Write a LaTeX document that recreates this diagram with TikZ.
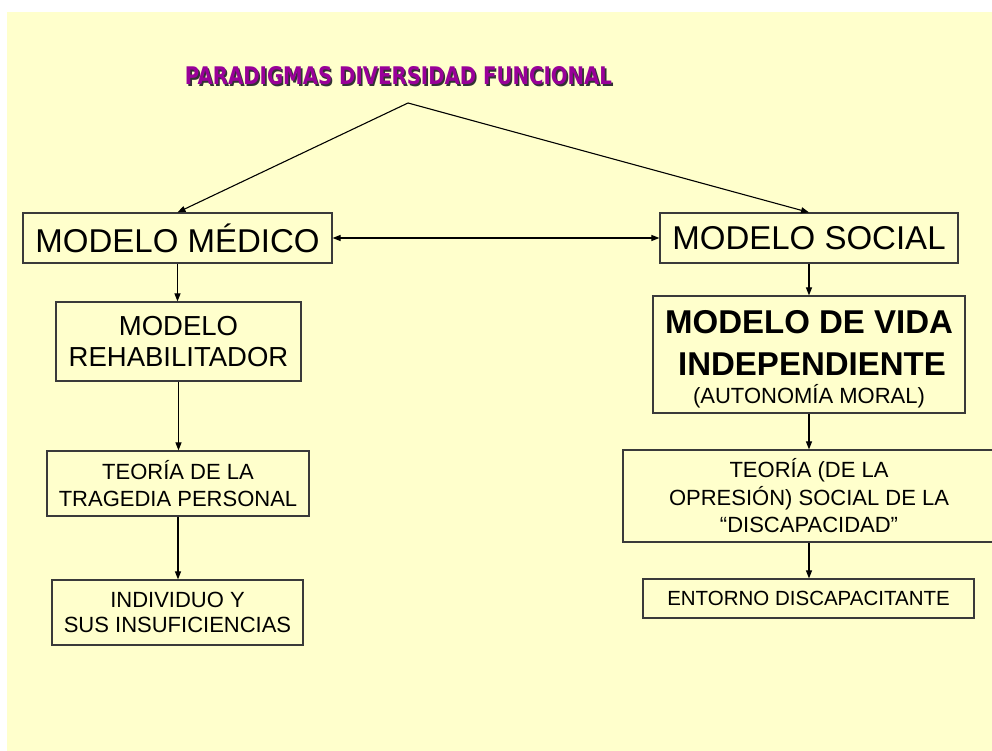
\documentclass[tikz,border=0pt]{standalone}
\usepackage{fontspec}
\setmainfont{Liberation Sans}
\newfontfamily\titlefont{DejaVu Sans}
\usetikzlibrary{arrows.meta}
\definecolor{bgyellow}{HTML}{FFFFCC}
\definecolor{titlepurple}{HTML}{990099}
\definecolor{boxline}{HTML}{3A3A3A}
\newcommand{\titletext}{\titlefont\bfseries PARADIGMAS DIVERSIDAD FUNCIONAL}
\begin{document}
\begin{tikzpicture}[x=1pt,y=-1pt,
  box/.style={draw=boxline, line width=1.2pt, inner sep=0pt, align=center},
  arr/.style={-{Triangle[length=8pt,width=6pt]}, line width=1.1pt, black},
  dblarr/.style={{Triangle[length=8pt,width=6pt]}-{Triangle[length=8pt,width=6pt]}, line width=1.1pt, black},
  bigtxt/.style={font=\fontsize{33}{38}\selectfont},
  midtxt/.style={font=\fontsize{27.5}{31}\selectfont},
  smalltxt/.style={font=\fontsize{22}{27.3}\selectfont},
  titletxt/.style={anchor=base, inner sep=0pt}
]
\useasboundingbox (0,0) rectangle (992,751);
\fill[white] (0,0) rectangle (992,751);
\fill[bgyellow] (7,12) rectangle (992,751);

% title with shadow (one node)
\node[titletxt] (title) at (398.5,85)
  {\resizebox{427pt}{18pt}{\rlap{\raisebox{-0.8pt}{\hspace{0.8pt}\color{black!80}\titletext}}\color{titlepurple}\titletext}};

\coordinate (apex) at (408,103);

% left column
\node[box, bigtxt, minimum width=309pt, minimum height=50pt] (medico) at (177.5,238) {MODELO MÉDICO};
\node[box, midtxt, minimum width=245pt, minimum height=79pt] (rehab) at (178.5,341.5) {MODELO\\REHABILITADOR};
\node[box, smalltxt, minimum width=262pt, minimum height=65pt] (tragedia) at (178,483.5) {TEORÍA DE LA\\TRAGEDIA PERSONAL};
\node[box, font=\fontsize{22}{25.6}\selectfont, minimum width=251pt, minimum height=65pt] (individuo) at (177.5,612.5) {INDIVIDUO Y\\SUS INSUFICIENCIAS};

% right column
\node[box, bigtxt, minimum width=298pt, minimum height=50pt] (social) at (809,238) {MODELO SOCIAL};
\node[box, minimum width=312pt, minimum height=117pt] (vida) at (809,354.5) {};
\node[anchor=base, inner sep=0pt, font=\fontsize{33}{38}\selectfont\bfseries] (vidaA) at (809,333) {MODELO DE VIDA};
\node[anchor=base, inner sep=0pt, font=\fontsize{33}{38}\selectfont\bfseries] (vidaB) at (812,375) {INDEPENDIENTE};
\node[anchor=base, inner sep=0pt, font=\fontsize{22}{27}\selectfont] (vidaC) at (809,403) {(AUTONOMÍA MORAL)};
\node[box, font=\fontsize{22}{27.5}\selectfont, minimum width=372pt, minimum height=92pt] (teoriasoc) at (809,496) {TEORÍA (DE LA\\OPRESIÓN) SOCIAL DE LA\\“DISCAPACIDAD”};
\node[box, font=\fontsize{20.5}{24}\selectfont, minimum width=331pt, minimum height=39pt] (entorno) at (808.5,598.5) {ENTORNO DISCAPACITANTE};

% connectors
\draw[arr] (apex) -- (medico.north);
\draw[arr] (apex) -- (social.north);
\draw[dblarr] (medico.east) -- (social.west);
\draw[arr] (medico.south) -- (medico.south |- rehab.north);
\draw[arr] (rehab.south) -- (rehab.south |- tragedia.north);
\draw[arr] (tragedia.south) -- (tragedia.south |- individuo.north);
\draw[arr] (social.south) -- (vida.north);
\draw[arr] (vida.south) -- (teoriasoc.north);
\draw[arr] (teoriasoc.south) -- (entorno.north -| teoriasoc.south);
\end{tikzpicture}
\end{document}
